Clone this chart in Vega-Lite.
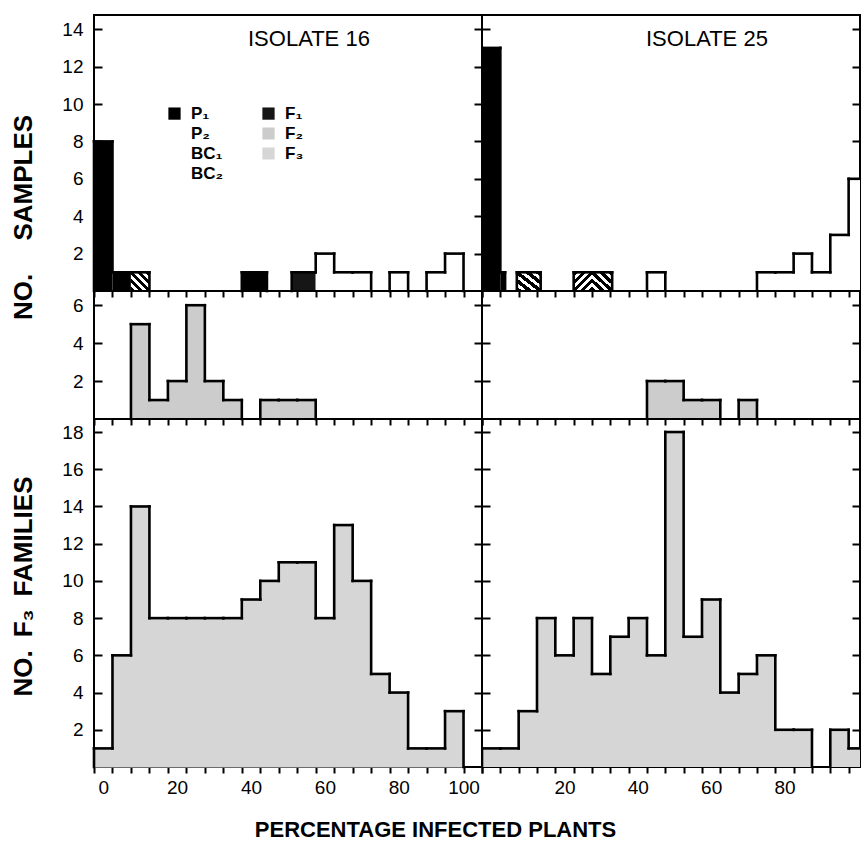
{
  "$schema": "https://vega.github.io/schema/vega-lite/v6.json",
  "padding": {"left": 9, "top": 14, "right": 0, "bottom": 10},
  "background": "white",
  "datasets": {
    "d": [
      {"iso":"16","p":"A","s":"P\u2081","lo":-2.5,"hi":2.5,"n":8},
      {"iso":"16","p":"A","s":"P\u2081","lo":2.5,"hi":7.5,"n":1},
      {"iso":"16","p":"A","s":"BC\u2081","lo":7.5,"hi":12.5,"n":1},
      {"iso":"16","p":"A","s":"P\u2081","lo":37.5,"hi":44.3,"n":1},
      {"iso":"16","p":"A","s":"F\u2081","lo":51,"hi":57.5,"n":1},
      {"iso":"16","p":"A","s":"P\u2082","lo":57.5,"hi":62.5,"n":2},
      {"iso":"16","p":"A","s":"P\u2082","lo":62.5,"hi":67.5,"n":1},
      {"iso":"16","p":"A","s":"P\u2082","lo":67.5,"hi":72.5,"n":1},
      {"iso":"16","p":"A","s":"P\u2082","lo":77.5,"hi":82.5,"n":1},
      {"iso":"16","p":"A","s":"P\u2082","lo":87.5,"hi":92.5,"n":1},
      {"iso":"16","p":"A","s":"P\u2082","lo":92.5,"hi":97.5,"n":2},

      {"iso":"25","p":"A","s":"P\u2081","lo":-2.5,"hi":2.5,"n":13},
      {"iso":"25","p":"A","s":"P\u2081","lo":2.5,"hi":3.8,"n":1},
      {"iso":"25","p":"A","s":"BC\u2081","lo":7,"hi":13.5,"n":1},
      {"iso":"25","p":"A","s":"BC\u2082","lo":22.5,"hi":27.5,"n":1},
      {"iso":"25","p":"A","s":"BC\u2081","lo":27.5,"hi":33,"n":1},
      {"iso":"25","p":"A","s":"P\u2082","lo":42.5,"hi":47.5,"n":1},
      {"iso":"25","p":"A","s":"P\u2082","lo":72.5,"hi":77.5,"n":1},
      {"iso":"25","p":"A","s":"P\u2082","lo":77.5,"hi":82.5,"n":1},
      {"iso":"25","p":"A","s":"P\u2082","lo":82.5,"hi":87.5,"n":2},
      {"iso":"25","p":"A","s":"P\u2082","lo":87.5,"hi":92.5,"n":1},
      {"iso":"25","p":"A","s":"P\u2082","lo":92.5,"hi":97.5,"n":3},
      {"iso":"25","p":"A","s":"P\u2082","lo":97.5,"hi":102.5,"n":6},

      {"iso":"16","p":"B","s":"F\u2082","lo":7.5,"hi":12.5,"n":5},
      {"iso":"16","p":"B","s":"F\u2082","lo":12.5,"hi":17.5,"n":1},
      {"iso":"16","p":"B","s":"F\u2082","lo":17.5,"hi":22.5,"n":2},
      {"iso":"16","p":"B","s":"F\u2082","lo":22.5,"hi":27.5,"n":6},
      {"iso":"16","p":"B","s":"F\u2082","lo":27.5,"hi":32.5,"n":2},
      {"iso":"16","p":"B","s":"F\u2082","lo":32.5,"hi":37.5,"n":1},
      {"iso":"16","p":"B","s":"F\u2082","lo":42.5,"hi":47.5,"n":1},
      {"iso":"16","p":"B","s":"F\u2082","lo":47.5,"hi":52.5,"n":1},
      {"iso":"16","p":"B","s":"F\u2082","lo":52.5,"hi":57.5,"n":1},

      {"iso":"25","p":"B","s":"F\u2082","lo":42.5,"hi":47.5,"n":2},
      {"iso":"25","p":"B","s":"F\u2082","lo":47.5,"hi":52.5,"n":2},
      {"iso":"25","p":"B","s":"F\u2082","lo":52.5,"hi":57.5,"n":1},
      {"iso":"25","p":"B","s":"F\u2082","lo":57.5,"hi":62.5,"n":1},
      {"iso":"25","p":"B","s":"F\u2082","lo":67.5,"hi":72.5,"n":1},

      {"iso":"16","p":"C","s":"F\u2083","lo":-2.5,"hi":2.5,"n":1},
      {"iso":"16","p":"C","s":"F\u2083","lo":2.5,"hi":7.5,"n":6},
      {"iso":"16","p":"C","s":"F\u2083","lo":7.5,"hi":12.5,"n":14},
      {"iso":"16","p":"C","s":"F\u2083","lo":12.5,"hi":17.5,"n":8},
      {"iso":"16","p":"C","s":"F\u2083","lo":17.5,"hi":22.5,"n":8},
      {"iso":"16","p":"C","s":"F\u2083","lo":22.5,"hi":27.5,"n":8},
      {"iso":"16","p":"C","s":"F\u2083","lo":27.5,"hi":32.5,"n":8},
      {"iso":"16","p":"C","s":"F\u2083","lo":32.5,"hi":37.5,"n":8},
      {"iso":"16","p":"C","s":"F\u2083","lo":37.5,"hi":42.5,"n":9},
      {"iso":"16","p":"C","s":"F\u2083","lo":42.5,"hi":47.5,"n":10},
      {"iso":"16","p":"C","s":"F\u2083","lo":47.5,"hi":52.5,"n":11},
      {"iso":"16","p":"C","s":"F\u2083","lo":52.5,"hi":57.5,"n":11},
      {"iso":"16","p":"C","s":"F\u2083","lo":57.5,"hi":62.5,"n":8},
      {"iso":"16","p":"C","s":"F\u2083","lo":62.5,"hi":67.5,"n":13},
      {"iso":"16","p":"C","s":"F\u2083","lo":67.5,"hi":72.5,"n":10},
      {"iso":"16","p":"C","s":"F\u2083","lo":72.5,"hi":77.5,"n":5},
      {"iso":"16","p":"C","s":"F\u2083","lo":77.5,"hi":82.5,"n":4},
      {"iso":"16","p":"C","s":"F\u2083","lo":82.5,"hi":87.5,"n":1},
      {"iso":"16","p":"C","s":"F\u2083","lo":87.5,"hi":92.5,"n":1},
      {"iso":"16","p":"C","s":"F\u2083","lo":92.5,"hi":97.5,"n":3},

      {"iso":"25","p":"C","s":"F\u2083","lo":-2.5,"hi":2.5,"n":1},
      {"iso":"25","p":"C","s":"F\u2083","lo":2.5,"hi":7.5,"n":1},
      {"iso":"25","p":"C","s":"F\u2083","lo":7.5,"hi":12.5,"n":3},
      {"iso":"25","p":"C","s":"F\u2083","lo":12.5,"hi":17.5,"n":8},
      {"iso":"25","p":"C","s":"F\u2083","lo":17.5,"hi":22.5,"n":6},
      {"iso":"25","p":"C","s":"F\u2083","lo":22.5,"hi":27.5,"n":8},
      {"iso":"25","p":"C","s":"F\u2083","lo":27.5,"hi":32.5,"n":5},
      {"iso":"25","p":"C","s":"F\u2083","lo":32.5,"hi":37.5,"n":7},
      {"iso":"25","p":"C","s":"F\u2083","lo":37.5,"hi":42.5,"n":8},
      {"iso":"25","p":"C","s":"F\u2083","lo":42.5,"hi":47.5,"n":6},
      {"iso":"25","p":"C","s":"F\u2083","lo":47.5,"hi":52.5,"n":18},
      {"iso":"25","p":"C","s":"F\u2083","lo":52.5,"hi":57.5,"n":7},
      {"iso":"25","p":"C","s":"F\u2083","lo":57.5,"hi":62.5,"n":9},
      {"iso":"25","p":"C","s":"F\u2083","lo":62.5,"hi":67.5,"n":4},
      {"iso":"25","p":"C","s":"F\u2083","lo":67.5,"hi":72.5,"n":5},
      {"iso":"25","p":"C","s":"F\u2083","lo":72.5,"hi":77.5,"n":6},
      {"iso":"25","p":"C","s":"F\u2083","lo":77.5,"hi":82.5,"n":2},
      {"iso":"25","p":"C","s":"F\u2083","lo":82.5,"hi":87.5,"n":2},
      {"iso":"25","p":"C","s":"F\u2083","lo":92.5,"hi":97.5,"n":2},
      {"iso":"25","p":"C","s":"F\u2083","lo":97.5,"hi":102.5,"n":1}
    ]
  },
  "data": {"name": "d"},
  "title": {"text": "PERCENTAGE INFECTED PLANTS", "orient": "bottom", "anchor": "middle", "offset": 22, "fontSize": 22, "fontWeight": "bold", "font": "Liberation Sans", "color": "#000"},
  "columns": 2,
  "spacing": 0,
  "bounds": "flush",
  "align": "each",
  "concat": [
    {
      "width": 388, "height": 276,
      "title": {"text": "ISOLATE 16", "anchor": "start", "frame": "group", "dx": 154, "offset": -53, "baseline": "alphabetic", "fontSize": 22, "fontWeight": "normal", "font": "Liberation Sans", "color": "#000"},
      "transform": [{"filter": "datum.iso == '16' && datum.p == 'A'"}],
      "layer": [
        {"transform": [{"filter": "false"}],
         "mark": {"type": "point", "filled": true, "stroke": "#000", "strokeWidth": 1.6, "opacity": 1},
         "encoding": {
          "x": {"field": "lo", "type": "quantitative", "scale": {"domain": [-2.5, 102.5], "nice": false, "zero": false, "padding": 0}, "axis": null},
          "y": {"field": "n", "type": "quantitative", "scale": {"domain": [0, 14.76], "nice": false}, "axis": null},
          "fill": {"field": "s", "type": "nominal",
            "scale": {"domain": ["P\u2081","P\u2082","BC\u2081","BC\u2082","F\u2081","F\u2082","F\u2083"], "range": ["#000000", "#ffffff", "#ffffff", "#ffffff", "#161616", "#cccccc", "#d6d6d6"]},
            "legend": {"orient": "none", "legendX": 72, "legendY": 90, "columns": 2, "title": null}},
          "shape": {"field": "s", "type": "nominal",
            "scale": {"domain": ["P\u2081","P\u2082","BC\u2081","BC\u2082","F\u2081","F\u2082","F\u2083"],
              "range": ["M-1,-1H1V1H-1Z", "M-1,-1H1V1H-1Z",
                "M-1,-1H1V1H-1Z M-1,-1L1,1 M-1,-0.4L0.4,1 M-1,0.2L-0.2,1 M-0.4,-1L1,0.4 M0.2,-1L1,-0.2",
                "M-1,-1H1V1H-1Z M-1,1L1,-1 M-0.4,1L1,-0.4 M0.2,1L1,0.2 M-1,0.4L0.4,-1 M-1,-0.2L-0.2,-1",
                "M-1,-1H1V1H-1Z",
                "M-1,-1H1V1H-1Z M-0.6,-0.5L-0.1,-0.1 M0.2,-0.7L0.6,-0.2 M-0.6,0.3L-0.2,0.7 M0.2,0.2L0.6,0.6",
                "M-1,-1H1V1H-1Z M-1,-1L1,1 M-1,0L0,1 M0,-1L1,0 M-1,1L1,-1 M-1,0L0,-1 M0,1L1,0"]},
            "legend": {"orient": "none", "legendX": 72, "legendY": 90, "columns": 2, "title": null}}
        }},
        {"mark": {"type": "bar", "orient": "vertical"}, "encoding": {
          "x": {"field": "lo", "type": "quantitative", "scale": {"domain": [-2.5, 102.5], "nice": false, "zero": false, "padding": 0}, "axis": {"values": [-2.5,2.5,7.5,12.5,17.5,22.5,27.5,32.5,37.5,42.5,47.5,52.5,57.5,62.5,67.5,72.5,77.5,82.5,87.5,92.5,97.5,102.5], "labels": false, "title": null}},
          "x2": {"field": "hi"},
          "y": {"field": "n", "type": "quantitative", "scale": {"domain": [0, 14.76], "nice": false}, "axis": {"values": [2,4,6,8,10,12,14], "title": "NO.\u2003 SAMPLES", "titleX": -71, "titleY": 202, "titleBaseline": "middle"}},
          "color": {"field": "s", "type": "nominal",
            "scale": {"domain": ["P\u2081","P\u2082","BC\u2081","BC\u2082","F\u2081","F\u2082","F\u2083"], "range": ["#000000", "#ffffff", "#ffffff", "#ffffff", "#161616", "#cccccc", "#d6d6d6"]},
            "legend": null}
        }},
        {"transform": [{"filter": "datum.s == 'BC\u2081'"}],
         "mark": {"type": "bar", "orient": "vertical", "fill": {"gradient": "linear", "x1": 0, "y1": 1, "x2": 1, "y2": 0, "stops": [{"offset":0,"color":"#000"},{"offset":0.12,"color":"#000"},{"offset":0.12,"color":"#fff"},{"offset":0.22,"color":"#fff"},{"offset":0.22,"color":"#000"},{"offset":0.34,"color":"#000"},{"offset":0.34,"color":"#fff"},{"offset":0.44,"color":"#fff"},{"offset":0.44,"color":"#000"},{"offset":0.56,"color":"#000"},{"offset":0.56,"color":"#fff"},{"offset":0.66,"color":"#fff"},{"offset":0.66,"color":"#000"},{"offset":0.78,"color":"#000"},{"offset":0.78,"color":"#fff"},{"offset":0.88,"color":"#fff"},{"offset":0.88,"color":"#000"},{"offset":1,"color":"#000"}]}},
         "encoding": {
          "x": {"field": "lo", "type": "quantitative", "scale": {"domain": [-2.5, 102.5], "nice": false, "zero": false, "padding": 0}, "axis": null},
          "x2": {"field": "hi"},
          "y": {"field": "n", "type": "quantitative", "scale": {"domain": [0, 14.76], "nice": false}, "axis": null}
        }},
        {"mark": "rule", "encoding": {
          "x": {"field": "lo", "type": "quantitative", "scale": {"domain": [-2.5, 102.5], "nice": false, "zero": false, "padding": 0}, "axis": null},
          "x2": {"field": "hi"},
          "y": {"field": "n", "type": "quantitative", "scale": {"domain": [0, 14.76], "nice": false}, "axis": {"orient": "right", "values": [2,4,6,8,10,12,14], "labels": false, "title": null}}
        }},
        {"transform": [
            {"window": [{"op": "lag", "field": "hi", "as": "phi"}, {"op": "lag", "field": "n", "as": "pn"}], "sort": [{"field": "lo", "order": "ascending"}]},
            {"calculate": "datum.phi === datum.lo ? datum.pn : 0", "as": "y0"}],
         "mark": "rule", "encoding": {
          "x": {"field": "lo", "type": "quantitative", "scale": {"domain": [-2.5, 102.5], "nice": false, "zero": false, "padding": 0}, "axis": null},
          "y": {"field": "n", "type": "quantitative", "scale": {"domain": [0, 14.76], "nice": false}, "axis": null},
          "y2": {"field": "y0"}
        }},
        {"transform": [
            {"window": [{"op": "lead", "field": "lo", "as": "nlo"}], "sort": [{"field": "lo", "order": "ascending"}]},
            {"filter": "datum.nlo !== datum.hi"}],
         "mark": "rule", "encoding": {
          "x": {"field": "hi", "type": "quantitative", "scale": {"domain": [-2.5, 102.5], "nice": false, "zero": false, "padding": 0}, "axis": null},
          "y": {"field": "n", "type": "quantitative", "scale": {"domain": [0, 14.76], "nice": false}, "axis": null},
          "y2": {"datum": 0}
        }}
      ],
      "resolve": {"axis": {"x": "independent", "y": "independent"}}
    },
    {
      "width": 378, "height": 276,
      "title": {"text": "ISOLATE 25", "anchor": "start", "frame": "group", "dx": 164, "offset": -53, "baseline": "alphabetic", "fontSize": 22, "fontWeight": "normal", "font": "Liberation Sans", "color": "#000"},
      "transform": [{"filter": "datum.iso == '25' && datum.p == 'A'"}],
      "layer": [
        {"mark": {"type": "bar", "orient": "vertical", "clip": true}, "encoding": {
          "x": {"field": "lo", "type": "quantitative", "scale": {"domain": [-2.5, 100.6], "nice": false, "zero": false, "padding": 0}, "axis": {"values": [-2.5,2.5,7.5,12.5,17.5,22.5,27.5,32.5,37.5,42.5,47.5,52.5,57.5,62.5,67.5,72.5,77.5,82.5,87.5,92.5,97.5], "labels": false, "title": null}},
          "x2": {"field": "hi"},
          "y": {"field": "n", "type": "quantitative", "scale": {"domain": [0, 14.76], "nice": false}, "axis": {"values": [2,4,6,8,10,12,14], "labels": false, "title": null}},
          "color": {"field": "s", "type": "nominal",
            "scale": {"domain": ["P\u2081","P\u2082","BC\u2081","BC\u2082","F\u2081","F\u2082","F\u2083"], "range": ["#000000", "#ffffff", "#ffffff", "#ffffff", "#161616", "#cccccc", "#d6d6d6"]},
            "legend": null}
        }},
        {"transform": [{"filter": "datum.s == 'BC\u2081'"}],
         "mark": {"type": "bar", "orient": "vertical", "clip": true, "fill": {"gradient": "linear", "x1": 0, "y1": 1, "x2": 1, "y2": 0, "stops": [{"offset":0,"color":"#000"},{"offset":0.12,"color":"#000"},{"offset":0.12,"color":"#fff"},{"offset":0.22,"color":"#fff"},{"offset":0.22,"color":"#000"},{"offset":0.34,"color":"#000"},{"offset":0.34,"color":"#fff"},{"offset":0.44,"color":"#fff"},{"offset":0.44,"color":"#000"},{"offset":0.56,"color":"#000"},{"offset":0.56,"color":"#fff"},{"offset":0.66,"color":"#fff"},{"offset":0.66,"color":"#000"},{"offset":0.78,"color":"#000"},{"offset":0.78,"color":"#fff"},{"offset":0.88,"color":"#fff"},{"offset":0.88,"color":"#000"},{"offset":1,"color":"#000"}]}},
         "encoding": {
          "x": {"field": "lo", "type": "quantitative", "scale": {"domain": [-2.5, 100.6], "nice": false, "zero": false, "padding": 0}, "axis": null},
          "x2": {"field": "hi"},
          "y": {"field": "n", "type": "quantitative", "scale": {"domain": [0, 14.76], "nice": false}, "axis": null}
        }},
        {"transform": [{"filter": "datum.s == 'BC\u2082'"}],
         "mark": {"type": "bar", "orient": "vertical", "clip": true, "fill": {"gradient": "linear", "x1": 0, "y1": 0, "x2": 1, "y2": 1, "stops": [{"offset":0,"color":"#000"},{"offset":0.12,"color":"#000"},{"offset":0.12,"color":"#fff"},{"offset":0.22,"color":"#fff"},{"offset":0.22,"color":"#000"},{"offset":0.34,"color":"#000"},{"offset":0.34,"color":"#fff"},{"offset":0.44,"color":"#fff"},{"offset":0.44,"color":"#000"},{"offset":0.56,"color":"#000"},{"offset":0.56,"color":"#fff"},{"offset":0.66,"color":"#fff"},{"offset":0.66,"color":"#000"},{"offset":0.78,"color":"#000"},{"offset":0.78,"color":"#fff"},{"offset":0.88,"color":"#fff"},{"offset":0.88,"color":"#000"},{"offset":1,"color":"#000"}]}},
         "encoding": {
          "x": {"field": "lo", "type": "quantitative", "scale": {"domain": [-2.5, 100.6], "nice": false, "zero": false, "padding": 0}, "axis": null},
          "x2": {"field": "hi"},
          "y": {"field": "n", "type": "quantitative", "scale": {"domain": [0, 14.76], "nice": false}, "axis": null}
        }},
        {"mark": {"type": "rule", "clip": true}, "encoding": {
          "x": {"field": "lo", "type": "quantitative", "scale": {"domain": [-2.5, 100.6], "nice": false, "zero": false, "padding": 0}, "axis": null},
          "x2": {"field": "hi"},
          "y": {"field": "n", "type": "quantitative", "scale": {"domain": [0, 14.76], "nice": false}, "axis": {"orient": "right", "values": [2,4,6,8,10,12,14], "labels": false, "title": null}}
        }},
        {"transform": [
            {"window": [{"op": "lag", "field": "hi", "as": "phi"}, {"op": "lag", "field": "n", "as": "pn"}], "sort": [{"field": "lo", "order": "ascending"}]},
            {"calculate": "datum.phi === datum.lo ? datum.pn : 0", "as": "y0"}],
         "mark": {"type": "rule", "clip": true}, "encoding": {
          "x": {"field": "lo", "type": "quantitative", "scale": {"domain": [-2.5, 100.6], "nice": false, "zero": false, "padding": 0}, "axis": null},
          "y": {"field": "n", "type": "quantitative", "scale": {"domain": [0, 14.76], "nice": false}, "axis": null},
          "y2": {"field": "y0"}
        }},
        {"transform": [
            {"window": [{"op": "lead", "field": "lo", "as": "nlo"}], "sort": [{"field": "lo", "order": "ascending"}]},
            {"filter": "datum.nlo !== datum.hi"}],
         "mark": {"type": "rule", "clip": true}, "encoding": {
          "x": {"field": "hi", "type": "quantitative", "scale": {"domain": [-2.5, 100.6], "nice": false, "zero": false, "padding": 0}, "axis": null},
          "y": {"field": "n", "type": "quantitative", "scale": {"domain": [0, 14.76], "nice": false}, "axis": null},
          "y2": {"datum": 0}
        }}
      ],
      "resolve": {"axis": {"x": "independent", "y": "independent"}}
    },
    {
      "width": 388, "height": 128,
      "transform": [{"filter": "datum.iso == '16' && datum.p == 'B'"}],
      "layer": [
        {"mark": {"type": "bar", "orient": "vertical", "stroke": "#cccccc", "strokeWidth": 1}, "encoding": {
          "x": {"field": "lo", "type": "quantitative", "scale": {"domain": [-2.5, 102.5], "nice": false, "zero": false, "padding": 0}, "axis": {"values": [-2.5,2.5,7.5,12.5,17.5,22.5,27.5,32.5,37.5,42.5,47.5,52.5,57.5,62.5,67.5,72.5,77.5,82.5,87.5,92.5,97.5,102.5], "labels": false, "title": null}},
          "x2": {"field": "hi"},
          "y": {"field": "n", "type": "quantitative", "scale": {"domain": [0, 6.75], "nice": false}, "axis": {"values": [2,4,6], "title": null}},
          "color": {"field": "s", "type": "nominal",
            "scale": {"domain": ["P\u2081","P\u2082","BC\u2081","BC\u2082","F\u2081","F\u2082","F\u2083"], "range": ["#000000", "#ffffff", "#ffffff", "#ffffff", "#161616", "#cccccc", "#d6d6d6"]},
            "legend": null}
        }},
        {"mark": "rule", "encoding": {
          "x": {"field": "lo", "type": "quantitative", "scale": {"domain": [-2.5, 102.5], "nice": false, "zero": false, "padding": 0}, "axis": null},
          "x2": {"field": "hi"},
          "y": {"field": "n", "type": "quantitative", "scale": {"domain": [0, 6.75], "nice": false}, "axis": {"orient": "right", "values": [2,4,6], "labels": false, "title": null}}
        }},
        {"transform": [
            {"window": [{"op": "lag", "field": "hi", "as": "phi"}, {"op": "lag", "field": "n", "as": "pn"}], "sort": [{"field": "lo", "order": "ascending"}]},
            {"calculate": "datum.phi === datum.lo ? datum.pn : 0", "as": "y0"}],
         "mark": "rule", "encoding": {
          "x": {"field": "lo", "type": "quantitative", "scale": {"domain": [-2.5, 102.5], "nice": false, "zero": false, "padding": 0}, "axis": null},
          "y": {"field": "n", "type": "quantitative", "scale": {"domain": [0, 6.75], "nice": false}, "axis": null},
          "y2": {"field": "y0"}
        }},
        {"transform": [
            {"window": [{"op": "lead", "field": "lo", "as": "nlo"}], "sort": [{"field": "lo", "order": "ascending"}]},
            {"filter": "datum.nlo !== datum.hi"}],
         "mark": "rule", "encoding": {
          "x": {"field": "hi", "type": "quantitative", "scale": {"domain": [-2.5, 102.5], "nice": false, "zero": false, "padding": 0}, "axis": null},
          "y": {"field": "n", "type": "quantitative", "scale": {"domain": [0, 6.75], "nice": false}, "axis": null},
          "y2": {"datum": 0}
        }}
      ],
      "resolve": {"axis": {"x": "independent", "y": "independent"}}
    },
    {
      "width": 378, "height": 128,
      "transform": [{"filter": "datum.iso == '25' && datum.p == 'B'"}],
      "layer": [
        {"mark": {"type": "bar", "orient": "vertical", "clip": true, "stroke": "#cccccc", "strokeWidth": 1}, "encoding": {
          "x": {"field": "lo", "type": "quantitative", "scale": {"domain": [-2.5, 100.6], "nice": false, "zero": false, "padding": 0}, "axis": {"values": [-2.5,2.5,7.5,12.5,17.5,22.5,27.5,32.5,37.5,42.5,47.5,52.5,57.5,62.5,67.5,72.5,77.5,82.5,87.5,92.5,97.5], "labels": false, "title": null}},
          "x2": {"field": "hi"},
          "y": {"field": "n", "type": "quantitative", "scale": {"domain": [0, 6.75], "nice": false}, "axis": {"values": [2,4,6], "labels": false, "title": null}},
          "color": {"field": "s", "type": "nominal",
            "scale": {"domain": ["P\u2081","P\u2082","BC\u2081","BC\u2082","F\u2081","F\u2082","F\u2083"], "range": ["#000000", "#ffffff", "#ffffff", "#ffffff", "#161616", "#cccccc", "#d6d6d6"]},
            "legend": null}
        }},
        {"mark": {"type": "rule", "clip": true}, "encoding": {
          "x": {"field": "lo", "type": "quantitative", "scale": {"domain": [-2.5, 100.6], "nice": false, "zero": false, "padding": 0}, "axis": null},
          "x2": {"field": "hi"},
          "y": {"field": "n", "type": "quantitative", "scale": {"domain": [0, 6.75], "nice": false}, "axis": {"orient": "right", "values": [2,4,6], "labels": false, "title": null}}
        }},
        {"transform": [
            {"window": [{"op": "lag", "field": "hi", "as": "phi"}, {"op": "lag", "field": "n", "as": "pn"}], "sort": [{"field": "lo", "order": "ascending"}]},
            {"calculate": "datum.phi === datum.lo ? datum.pn : 0", "as": "y0"}],
         "mark": {"type": "rule", "clip": true}, "encoding": {
          "x": {"field": "lo", "type": "quantitative", "scale": {"domain": [-2.5, 100.6], "nice": false, "zero": false, "padding": 0}, "axis": null},
          "y": {"field": "n", "type": "quantitative", "scale": {"domain": [0, 6.75], "nice": false}, "axis": null},
          "y2": {"field": "y0"}
        }},
        {"transform": [
            {"window": [{"op": "lead", "field": "lo", "as": "nlo"}], "sort": [{"field": "lo", "order": "ascending"}]},
            {"filter": "datum.nlo !== datum.hi"}],
         "mark": {"type": "rule", "clip": true}, "encoding": {
          "x": {"field": "hi", "type": "quantitative", "scale": {"domain": [-2.5, 100.6], "nice": false, "zero": false, "padding": 0}, "axis": null},
          "y": {"field": "n", "type": "quantitative", "scale": {"domain": [0, 6.75], "nice": false}, "axis": null},
          "y2": {"datum": 0}
        }}
      ],
      "resolve": {"axis": {"x": "independent", "y": "independent"}}
    },
    {
      "width": 388, "height": 348,
      "transform": [{"filter": "datum.iso == '16' && datum.p == 'C'"}],
      "layer": [
        {"mark": {"type": "bar", "orient": "vertical", "stroke": "#d6d6d6", "strokeWidth": 1}, "encoding": {
          "x": {"field": "lo", "type": "quantitative", "scale": {"domain": [-2.5, 102.5], "nice": false, "zero": false, "padding": 0}, "axis": {"values": [-2.5,2.5,7.5,12.5,17.5,22.5,27.5,32.5,37.5,42.5,47.5,52.5,57.5,62.5,67.5,72.5,77.5,82.5,87.5,92.5,97.5,102.5], "labelExpr": "(datum.value + 2.5) % 20 == 0 ? format(datum.value + 2.5, 'd') : ''", "labelOffset": {"condition": {"test": "datum.value == 97.5", "value": 0}, "value": 9.2}, "title": null}},
          "x2": {"field": "hi"},
          "y": {"field": "n", "type": "quantitative", "scale": {"domain": [0, 18.7], "nice": false}, "axis": {"values": [2,4,6,8,10,12,14,16,18], "title": "NO.\u2002F\u2083\u2002FAMILIES", "titleX": -71, "titleY": 167, "titleBaseline": "middle"}},
          "color": {"field": "s", "type": "nominal",
            "scale": {"domain": ["P\u2081","P\u2082","BC\u2081","BC\u2082","F\u2081","F\u2082","F\u2083"], "range": ["#000000", "#ffffff", "#ffffff", "#ffffff", "#161616", "#cccccc", "#d6d6d6"]},
            "legend": null}
        }},
        {"mark": "rule", "encoding": {
          "x": {"field": "lo", "type": "quantitative", "scale": {"domain": [-2.5, 102.5], "nice": false, "zero": false, "padding": 0}, "axis": null},
          "x2": {"field": "hi"},
          "y": {"field": "n", "type": "quantitative", "scale": {"domain": [0, 18.7], "nice": false}, "axis": {"orient": "right", "values": [2,4,6,8,10,12,14,16,18], "labels": false, "title": null}}
        }},
        {"transform": [
            {"window": [{"op": "lag", "field": "hi", "as": "phi"}, {"op": "lag", "field": "n", "as": "pn"}], "sort": [{"field": "lo", "order": "ascending"}]},
            {"calculate": "datum.phi === datum.lo ? datum.pn : 0", "as": "y0"}],
         "mark": "rule", "encoding": {
          "x": {"field": "lo", "type": "quantitative", "scale": {"domain": [-2.5, 102.5], "nice": false, "zero": false, "padding": 0}, "axis": null},
          "y": {"field": "n", "type": "quantitative", "scale": {"domain": [0, 18.7], "nice": false}, "axis": null},
          "y2": {"field": "y0"}
        }},
        {"transform": [
            {"window": [{"op": "lead", "field": "lo", "as": "nlo"}], "sort": [{"field": "lo", "order": "ascending"}]},
            {"filter": "datum.nlo !== datum.hi"}],
         "mark": "rule", "encoding": {
          "x": {"field": "hi", "type": "quantitative", "scale": {"domain": [-2.5, 102.5], "nice": false, "zero": false, "padding": 0}, "axis": null},
          "y": {"field": "n", "type": "quantitative", "scale": {"domain": [0, 18.7], "nice": false}, "axis": null},
          "y2": {"datum": 0}
        }}
      ],
      "resolve": {"axis": {"x": "independent", "y": "independent"}}
    },
    {
      "width": 378, "height": 348,
      "transform": [{"filter": "datum.iso == '25' && datum.p == 'C'"}],
      "layer": [
        {"mark": {"type": "bar", "orient": "vertical", "clip": true, "stroke": "#d6d6d6", "strokeWidth": 1}, "encoding": {
          "x": {"field": "lo", "type": "quantitative", "scale": {"domain": [-2.5, 100.6], "nice": false, "zero": false, "padding": 0}, "axis": {"values": [-2.5,2.5,7.5,12.5,17.5,22.5,27.5,32.5,37.5,42.5,47.5,52.5,57.5,62.5,67.5,72.5,77.5,82.5,87.5,92.5,97.5], "labelExpr": "(datum.value + 2.5) % 20 == 0 && datum.value > 0 && datum.value < 90 ? format(datum.value + 2.5, 'd') : ''", "labelOffset": 9.2, "title": null}},
          "x2": {"field": "hi"},
          "y": {"field": "n", "type": "quantitative", "scale": {"domain": [0, 18.7], "nice": false}, "axis": {"values": [2,4,6,8,10,12,14,16,18], "labels": false, "title": null}},
          "color": {"field": "s", "type": "nominal",
            "scale": {"domain": ["P\u2081","P\u2082","BC\u2081","BC\u2082","F\u2081","F\u2082","F\u2083"], "range": ["#000000", "#ffffff", "#ffffff", "#ffffff", "#161616", "#cccccc", "#d6d6d6"]},
            "legend": null}
        }},
        {"mark": {"type": "rule", "clip": true}, "encoding": {
          "x": {"field": "lo", "type": "quantitative", "scale": {"domain": [-2.5, 100.6], "nice": false, "zero": false, "padding": 0}, "axis": null},
          "x2": {"field": "hi"},
          "y": {"field": "n", "type": "quantitative", "scale": {"domain": [0, 18.7], "nice": false}, "axis": {"orient": "right", "values": [2,4,6,8,10,12,14,16,18], "labels": false, "title": null}}
        }},
        {"transform": [
            {"window": [{"op": "lag", "field": "hi", "as": "phi"}, {"op": "lag", "field": "n", "as": "pn"}], "sort": [{"field": "lo", "order": "ascending"}]},
            {"calculate": "datum.phi === datum.lo ? datum.pn : 0", "as": "y0"}],
         "mark": {"type": "rule", "clip": true}, "encoding": {
          "x": {"field": "lo", "type": "quantitative", "scale": {"domain": [-2.5, 100.6], "nice": false, "zero": false, "padding": 0}, "axis": null},
          "y": {"field": "n", "type": "quantitative", "scale": {"domain": [0, 18.7], "nice": false}, "axis": null},
          "y2": {"field": "y0"}
        }},
        {"transform": [
            {"window": [{"op": "lead", "field": "lo", "as": "nlo"}], "sort": [{"field": "lo", "order": "ascending"}]},
            {"filter": "datum.nlo !== datum.hi"}],
         "mark": {"type": "rule", "clip": true}, "encoding": {
          "x": {"field": "hi", "type": "quantitative", "scale": {"domain": [-2.5, 100.6], "nice": false, "zero": false, "padding": 0}, "axis": null},
          "y": {"field": "n", "type": "quantitative", "scale": {"domain": [0, 18.7], "nice": false}, "axis": null},
          "y2": {"datum": 0}
        }}
      ],
      "resolve": {"axis": {"x": "independent", "y": "independent"}}
    }
  ],
  "config": {
    "font": "Liberation Sans",
    "view": {"stroke": "#000", "strokeWidth": 2},
    "axis": {"domain": false, "grid": false, "ticks": true, "tickColor": "#000", "tickWidth": 2, "labelColor": "#000", "labelFont": "Liberation Sans", "labelFontSize": 19, "titleColor": "#000", "titleFont": "Liberation Sans", "titleFontSize": 26, "titleFontWeight": "bold", "labelOverlap": false, "labelFlush": false, "labelBound": false},
    "axisX": {"tickSize": 6, "labelPadding": 5},
    "axisY": {"tickSize": -8, "labelPadding": 19},
    "legend": {"symbolSize": 150, "symbolStrokeColor": "#000", "symbolStrokeWidth": 1.6, "symbolOpacity": 1, "labelFont": "Liberation Sans", "labelFontSize": 17, "labelFontWeight": "bold", "labelColor": "#000", "labelOffset": 8, "rowPadding": 1, "columnPadding": 35, "padding": 0},
    "rule": {"color": "#000", "strokeWidth": 2.6, "strokeCap": "square"}
  }
}
